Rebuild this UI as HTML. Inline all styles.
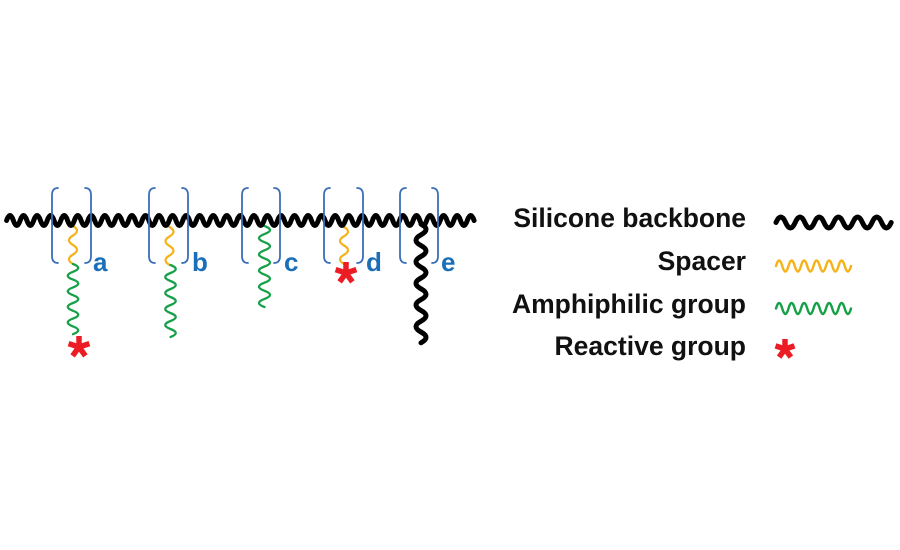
<!DOCTYPE html>
<html>
<head>
<meta charset="utf-8">
<style>
  html, body { margin: 0; padding: 0; background: #ffffff; }
  svg { display: block; }
  text { font-family: "Liberation Sans", "DejaVu Sans", sans-serif; font-weight: bold; }
</style>
</head>
<body>
<svg width="900" height="550" viewBox="0 0 900 550" xmlns="http://www.w3.org/2000/svg">
  <rect x="0" y="0" width="900" height="550" fill="#ffffff"/>

  <!-- side chains (drawn first, under backbone) -->
  <g fill="none" stroke-linecap="round" stroke-linejoin="round">
    <!-- a -->
    <path d="M73 226 q8 4.75 0 9.5 t0 9.5 t0 9.5 t0 9.5" stroke="#f5b219" stroke-width="2.2"/>
    <path d="M73 264 q10.5 3.9 0 7.8 t0 7.8 t0 7.8 t0 7.8 t0 7.8 t0 7.8 t0 7.8 t0 7.8 t0 7.8" stroke="#16a148" stroke-width="2.3"/>
    <!-- b -->
    <path d="M169.5 227 q8 4.75 0 9.5 t0 9.5 t0 9.5 t0 9.5" stroke="#f5b219" stroke-width="2.2"/>
    <path d="M170.5 265 q10.5 4 0 8 t0 8 t0 8 t0 8 t0 8 t0 8 t0 8 t0 8 t0 8" stroke="#16a148" stroke-width="2.3"/>
    <!-- c -->
    <path d="M264.5 226 q11 4.05 0 8.1 t0 8.1 t0 8.1 t0 8.1 t0 8.1 t0 8.1 t0 8.1 t0 8.1 t0 8.1 t0 8.1" stroke="#16a148" stroke-width="2.3"/>
    <!-- d -->
    <path d="M344 227 q8 4.6 0 9.25 t0 9.25 t0 9.25 t0 9.25" stroke="#f5b219" stroke-width="2.2"/>
    <!-- e -->
    <path d="M421 224 q10 5.4 0 10.8 t0 10.8 t0 10.8 t0 10.8 t0 10.8 t0 10.8 t0 10.8 t0 10.8 t0 10.8 t0 10.8 t0 10.8" stroke="#000000" stroke-width="5"/>
  </g>

  <!-- backbone -->
  <path fill="none" stroke="#000000" stroke-width="5" stroke-linecap="round" stroke-linejoin="round"
    d="M6.6 220.5 q3.3875 -10 6.775 0
       t6.775 0 t6.775 0 t6.775 0 t6.775 0 t6.775 0 t6.775 0 t6.775 0 t6.775 0 t6.775 0 t6.775 0
       t6.775 0 t6.775 0 t6.775 0 t6.775 0 t6.775 0 t6.775 0 t6.775 0 t6.775 0 t6.775 0 t6.775 0
       t6.775 0 t6.775 0 t6.775 0 t6.775 0 t6.775 0 t6.775 0 t6.775 0 t6.775 0 t6.775 0 t6.775 0
       t6.775 0 t6.775 0 t6.775 0 t6.775 0 t6.775 0 t6.775 0 t6.775 0 t6.775 0 t6.775 0 t6.775 0
       t6.775 0 t6.775 0 t6.775 0 t6.775 0 t6.775 0 t6.775 0 t6.775 0 t6.775 0 t6.775 0 t6.775 0
       t6.775 0 t6.775 0 t6.775 0 t6.775 0 t6.775 0 t6.775 0 t6.775 0 t6.775 0 t6.775 0 t6.775 0
       t6.775 0 t6.775 0 t6.775 0 t6.775 0 t6.775 0 t6.775 0 t6.775 0 t6.775 0"/>

  <!-- brackets -->
  <g fill="none" stroke="#3a6fb7" stroke-width="1.8" stroke-linecap="round">
    <path d="M58 188 Q52 188 52 195 L52 256 Q52 263 58 263"/>
    <path d="M85 188 Q91 188 91 195 L91 256 Q91 263 85 263"/>
    <path d="M155 188 Q149 188 149 195 L149 256 Q149 263 155 263"/>
    <path d="M182 188 Q188 188 188 195 L188 256 Q188 263 182 263"/>
    <path d="M248 188 Q242 188 242 195 L242 256 Q242 263 248 263"/>
    <path d="M274 188 Q280 188 280 195 L280 256 Q280 263 274 263"/>
    <path d="M330 188 Q324 188 324 195 L324 256 Q324 263 330 263"/>
    <path d="M357 188 Q363 188 363 195 L363 256 Q363 263 357 263"/>
    <path d="M406 188 Q400 188 400 195 L400 256 Q400 263 406 263"/>
    <path d="M432 188 Q438 188 438 195 L438 256 Q438 263 432 263"/>
  </g>

  <!-- bracket labels -->
  <g fill="#1b6fb8" font-size="26">
    <text x="93" y="271">a</text>
    <text x="192" y="271">b</text>
    <text x="284" y="271">c</text>
    <text x="366" y="271">d</text>
    <text x="441" y="271">e</text>
  </g>

  <!-- asterisks -->
  <g stroke="#ec1c24" stroke-width="5.5" fill="#ec1c24">
    <g transform="translate(79,347)">
      <line x1="0" y1="0" x2="0" y2="-11"/>
      <line x1="0" y1="0" x2="10.4" y2="-3.4"/>
      <line x1="0" y1="0" x2="6.4" y2="8.9"/>
      <line x1="0" y1="0" x2="-6.4" y2="8.9"/>
      <line x1="0" y1="0" x2="-10.4" y2="-3.4"/>
    </g>
    <g transform="translate(346,273)">
      <line x1="0" y1="0" x2="0" y2="-11"/>
      <line x1="0" y1="0" x2="10.4" y2="-3.4"/>
      <line x1="0" y1="0" x2="6.4" y2="8.9"/>
      <line x1="0" y1="0" x2="-6.4" y2="8.9"/>
      <line x1="0" y1="0" x2="-10.4" y2="-3.4"/>
    </g>
    <g transform="translate(785,349)">
      <line x1="0" y1="0" x2="0" y2="-10"/>
      <line x1="0" y1="0" x2="9.5" y2="-3.1"/>
      <line x1="0" y1="0" x2="5.9" y2="8.1"/>
      <line x1="0" y1="0" x2="-5.9" y2="8.1"/>
      <line x1="0" y1="0" x2="-9.5" y2="-3.1"/>
    </g>
  </g>

  <!-- legend text -->
  <g fill="#111111" font-size="26.5" text-anchor="end">
    <text x="746" y="227">Silicone backbone</text>
    <text x="746" y="270">Spacer</text>
    <text x="746" y="313">Amphiphilic group</text>
    <text x="746" y="355">Reactive group</text>
  </g>

  <!-- legend symbols -->
  <g fill="none" stroke-linecap="round" stroke-linejoin="round">
    <path d="M776 222.5 q4.8 -11 9.6 0 t9.6 0 t9.6 0 t9.6 0 t9.6 0 t9.6 0 t9.6 0 t9.6 0 t9.6 0 t9.6 0 t9.6 0 t9.6 0" stroke="#000000" stroke-width="5"/>
    <path d="M776 266 q3.1 -11 6.25 0 t6.25 0 t6.25 0 t6.25 0 t6.25 0 t6.25 0 t6.25 0 t6.25 0 t6.25 0 t6.25 0 t6.25 0 t6.25 0" stroke="#f5b219" stroke-width="2.4"/>
    <path d="M776 308.5 q3.1 -11 6.25 0 t6.25 0 t6.25 0 t6.25 0 t6.25 0 t6.25 0 t6.25 0 t6.25 0 t6.25 0 t6.25 0 t6.25 0 t6.25 0" stroke="#16a148" stroke-width="2.4"/>
  </g>
</svg>
</body>
</html>
